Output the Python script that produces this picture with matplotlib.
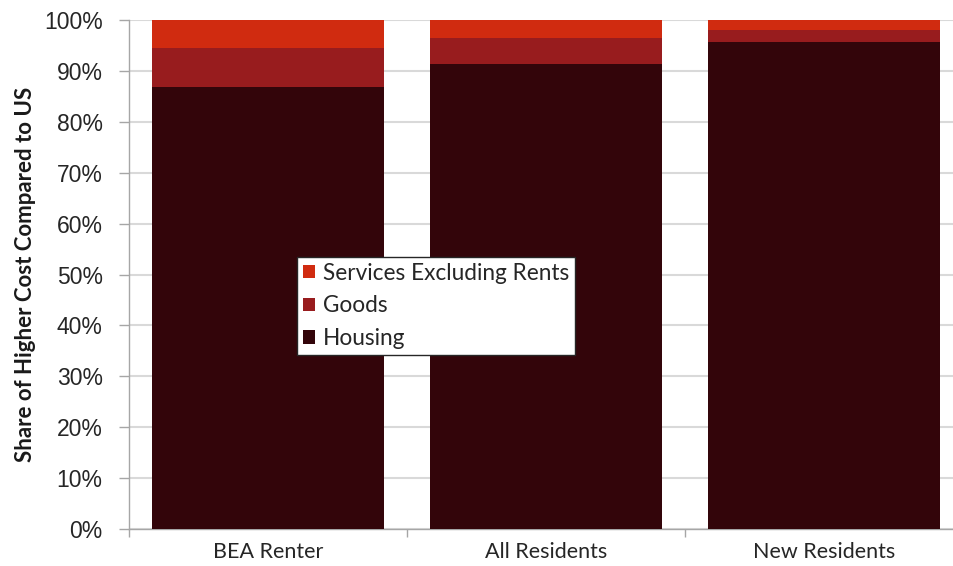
"""Share of higher cost compared to US, stacked by component."""

import matplotlib
matplotlib.use("Agg")
import matplotlib.pyplot as plt
import numpy as np
from matplotlib.ticker import FuncFormatter, FixedLocator

categories = ["BEA Renter", "All Residents", "New Residents"]
housing = [86.8, 91.3, 95.6]
goods = [7.7, 5.1, 2.4]
services = [5.5, 3.6, 2.0]

COLORS = {
    "Housing": "#33050a",
    "Goods": "#981c1e",
    "Services Excluding Rents": "#d02b10",
}

fig = plt.figure(figsize=(9.54, 5.66), dpi=100)
ax = fig.add_axes([129 / 954, 37 / 566, 834 / 954, 509 / 566])

x = np.arange(len(categories))
width = 0.835

b_h = ax.bar(x, housing, width, color=COLORS["Housing"], label="Housing", zorder=3)
b_g = ax.bar(x, goods, width, bottom=housing, color=COLORS["Goods"], label="Goods", zorder=3)
bottom2 = [h + g for h, g in zip(housing, goods)]
b_s = ax.bar(x, services, width, bottom=bottom2, color=COLORS["Services Excluding Rents"],
             label="Services Excluding Rents", zorder=3)

ax.set_xlim(-0.5, len(categories) - 0.5)
ax.set_ylim(0, 100)
ax.set_yticks(np.arange(0, 101, 10))
ax.yaxis.set_major_formatter(FuncFormatter(lambda v, _: f"{v:.0f}%"))
ax.grid(axis="y", color="#d9d9d9", linewidth=1.5, zorder=0)

# category labels centred, ticks on boundaries
ax.set_xticks(x)
ax.set_xticklabels(categories, fontsize=15.5, family="Lato", color="#262626")
ax.tick_params(axis="x", which="major", length=0, pad=9)
ax.xaxis.set_minor_locator(FixedLocator(np.arange(-0.5, len(categories), 1.0)))
ax.tick_params(axis="x", which="minor", length=6, color="#a6a6a6", width=1)

ax.tick_params(axis="y", length=7, color="#a6a6a6", width=1, pad=12,
               labelsize=16.5, labelcolor="#262626")
for lbl in ax.get_yticklabels():
    lbl.set_family("Liberation Sans")

for side in ("top", "right"):
    ax.spines[side].set_visible(False)
for side in ("left", "bottom"):
    ax.spines[side].set_color("#a6a6a6")
    ax.spines[side].set_linewidth(1)

ax.set_ylabel("Share of Higher Cost Compared to US", fontsize=16, family="Lato",
              fontweight="bold", color="#1a1a1a", labelpad=6)

leg = ax.legend(handles=[b_s, b_g, b_h], loc="upper left",
                bbox_to_anchor=((297 - 129) / 834, (529 - 257) / 509),
                frameon=True, fancybox=False, edgecolor="#262626", framealpha=1,
                prop={"family": "Lato", "size": 16.3}, handlelength=0.55,
                handleheight=0.55, handletextpad=0.35, labelspacing=0.52,
                borderpad=0.25, borderaxespad=0)
leg.get_frame().set_linewidth(1)
for t in leg.get_texts():
    t.set_color("#262626")

fig.savefig("out.png", dpi=100)
